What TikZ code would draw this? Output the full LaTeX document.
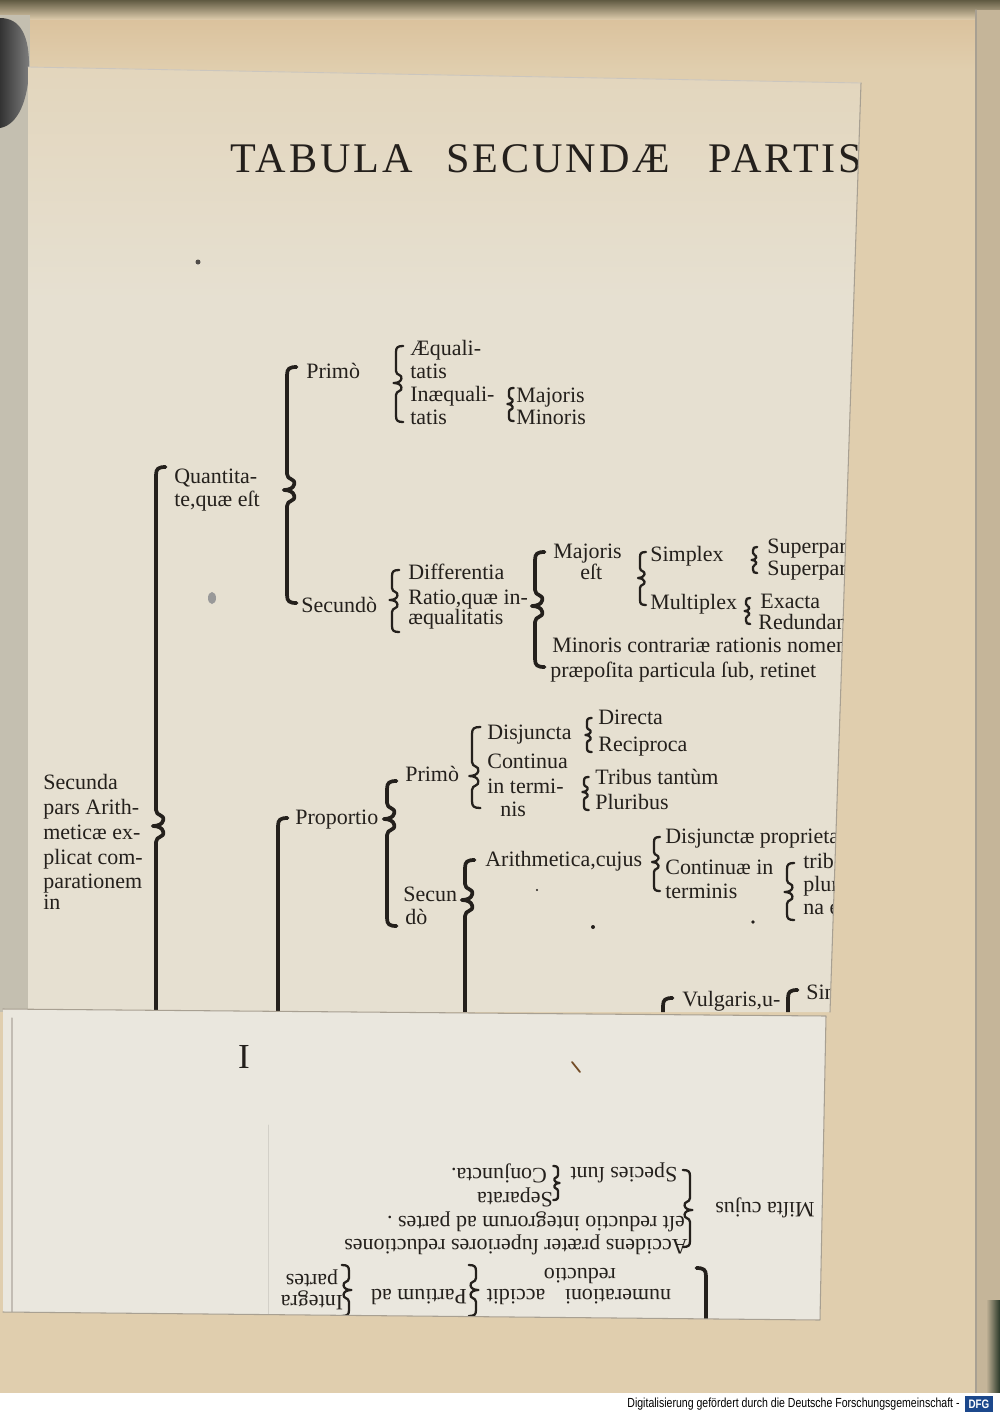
\documentclass[tikz,border=0pt]{standalone}
\usepackage{fontspec}
\setmainfont{Liberation Serif}
\newfontfamily\titfont[LetterSpace=7]{Liberation Serif}
\newfontfamily\dfgfont[FakeStretch=0.8]{Liberation Sans}
\definecolor{pagina}{RGB}{224,206,174}
\definecolor{charta}{RGB}{230,224,209}
\definecolor{plica}{RGB}{234,231,222}
\definecolor{atrum}{RGB}{36,32,28}
\definecolor{umbra}{RGB}{168,160,146}
\definecolor{rotulus}{RGB}{196,191,176}
\definecolor{dfgblau}{RGB}{28,72,140}
\begin{document}
\begin{tikzpicture}[x=0.02cm,y=-0.02cm,line cap=round,line join=round,
	font=\fontsize{12.5}{13}\selectfont]
	\tikzset{txt/.style={anchor=base west,inner sep=0pt,text=atrum},
		rtxt/.style={anchor=center,inner sep=0pt,text=atrum,rotate=180},
		bigbrace/.style={draw=atrum,line width=2.1pt},
		smallbrace/.style={draw=atrum,line width=1.3pt}}
	\useasboundingbox (0,0) rectangle (1000,1414);
	% brace: style, x, top, mid, bottom, size
	\def\brk#1#2#3#4#5#6{\draw[#1] (#2+0.6*#6,#3) .. controls (#2+0.15*#6,#3) and (#2,#3+0.1*#6) .. (#2,#3+0.5*#6) -- (#2,#4-#6) .. controls (#2,#4-0.6*#6) and (#2+0.55*#6,#4-0.75*#6) .. (#2+0.45*#6,#4-0.35*#6) .. controls (#2+0.4*#6,#4-0.1*#6) and (#2+0.1*#6,#4) .. (#2-0.2*#6,#4) .. controls (#2+0.1*#6,#4) and (#2+0.4*#6,#4+0.1*#6) .. (#2+0.45*#6,#4+0.35*#6) .. controls (#2+0.55*#6,#4+0.75*#6) and (#2,#4+0.6*#6) .. (#2,#4+#6) -- (#2,#5-0.5*#6) .. controls (#2,#5-0.1*#6) and (#2+0.15*#6,#5) .. (#2+0.6*#6,#5);}
	%--------- pagina
	\fill[pagina] (0,0) rectangle (1000,1414);
	\shade[top color={rgb,255:red,96;green,90;blue,66}, bottom color=pagina] (0,0) rectangle (1000,20);
	\shade[top color=pagina!85!brown, bottom color=pagina] (30,20) rectangle (975,70);
	\fill[pagina!88!black] (976,10) rectangle (1000,1393);
	\draw[umbra,line width=0.6pt] (976,10) -- (976,1393);
	\shade[left color=pagina!88!black, right color={rgb,255:red,40;green,55;blue,40}] (986,1300) rectangle (1000,1393);
	\fill[rotulus] (0,15) rectangle (30,1012);
	\shade[left color=black!80, right color=black!50] (0,18) .. controls (20,18) and (30,35) .. (29,70) .. controls (28,100) and (18,125) .. (0,128) -- cycle;
	%--------- charta
	\fill[charta] (28,67) -- (861,83) -- (830,1012) -- (28,1012) -- cycle;
	\begin{scope}
		\clip (28,67) -- (861,83) -- (830,1012) -- (28,1012) -- cycle;
		\shade[top color=pagina!60!charta, bottom color=charta] (28,60) rectangle (870,300);
		\node[anchor=base west,inner sep=0pt,text=atrum,font=\titfont\fontsize{24}{24}\selectfont] (titulus) at (230,172) {TABULA\hspace{19pt}SECUNDÆ\hspace{22pt}PARTIS};
		% quantitas
		\node[txt] (primoA) at (306,378) {Primò};
		\node[txt] (aequ1) at (410,355) {Æquali-};
		\node[txt] (aequ2) at (410,378) {tatis};
		\node[txt] (inaequ1) at (410,401) {Inæquali-};
		\node[txt] (inaequ2) at (410,424) {tatis};
		\node[txt] (majorA) at (516,402) {Majoris};
		\node[txt] (minorA) at (516,424) {Minoris};
		\node[txt] (quant1) at (174,483) {Quantita-};
		\node[txt] (quant2) at (174,506) {te,quæ eſt};
		\node[txt] (secundoA) at (301,612) {Secundò};
		\node[txt] (diff) at (408,579) {Differentia};
		\node[txt] (ratio1) at (408,604) {Ratio,quæ in-};
		\node[txt] (ratio2) at (408,624) {æqualitatis};
		\node[txt] (majorB1) at (553,558) {Majoris};
		\node[txt] (majorB2) at (580,579) {eſt};
		\node[txt] (simplex) at (650,561) {Simplex};
		\node[txt] (multiplex) at (650,609) {Multiplex};
		\node[txt] (superp1) at (767,553) {Superpart};
		\node[txt] (superp2) at (767,575) {Superpart};
		\node[txt] (exacta) at (760,608) {Exacta};
		\node[txt] (redund) at (758,629) {Redundan};
		\node[txt] (minorB1) at (552,652) {Minoris contrariæ rationis nomen};
		\node[txt] (minorB2) at (550,677) {præpoſita particula ſub, retinet};
		% proportio
		\foreach \s/\y [count=\i] in {Secunda/789,pars Arith-/814,meticæ ex-/839,plicat com-/864,parationem/888,in/909}
			\node[txt] (secunda\i) at (43,\y) {\s};
		\node[txt] (proport) at (295,824) {Proportio};
		\node[txt] (primoB) at (405,781) {Primò};
		\node[txt] (secunB1) at (403,901) {Secun};
		\node[txt] (secunB2) at (405,924) {dò};
		\node[txt] (disj) at (487,739) {Disjuncta};
		\node[txt] (cont1) at (487,768) {Continua};
		\node[txt] (cont2) at (487,793) {in termi-};
		\node[txt] (cont3) at (500,816) {nis};
		\node[txt] (directa) at (598,724) {Directa};
		\node[txt] (recip) at (598,751) {Reciproca};
		\node[txt] (tribus) at (595,784) {Tribus tantùm};
		\node[txt] (plures) at (595,809) {Pluribus};
		\node[txt] (arith) at (485,866) {Arithmetica,cujus};
		\node[txt] (disjprop) at (665,843) {Disjunctæ proprieta};
		\node[txt] (contin1) at (665,874) {Continuæ in};
		\node[txt] (contin2) at (665,898) {terminis};
		\node[txt] (trib) at (803,868) {trib};
		\node[txt] (plur) at (803,891) {plur};
		\node[txt] (nae) at (803,914) {na e};
		\node[txt] (vulg1) at (682,1006) {Vulgaris,u-};
		\node[txt] (vulg2) at (680,1029) {hi exempl};
		\node[txt] (sin) at (806,999) {Sin};
		%--------- uncini
		\brk{bigbrace}{156}{467}{826}{1200}{16}
		\brk{bigbrace}{287}{367}{490}{603}{16}
		\brk{smallbrace}{396}{346}{383}{422}{12}
		\brk{smallbrace}{509}{388}{404}{421}{8}
		\brk{smallbrace}{392}{570}{600}{632}{12}
		\brk{bigbrace}{535}{552}{606}{667}{16}
		\brk{smallbrace}{640}{552}{578}{605}{10}
		\brk{smallbrace}{753}{547}{560}{573}{7}
		\brk{smallbrace}{746}{598}{611}{624}{7}
		\brk{bigbrace}{278}{818}{1100}{1200}{16}
		\brk{bigbrace}{387}{781}{819}{926}{16}
		\brk{smallbrace}{472}{727}{776}{808}{14}
		\brk{smallbrace}{587}{718}{735}{752}{8}
		\brk{smallbrace}{584}{777}{792}{810}{8}
		\brk{bigbrace}{465}{860}{900}{1200}{16}
		\brk{smallbrace}{654}{837}{862}{891}{10}
		\brk{smallbrace}{787}{863}{892}{920}{12}
		\brk{bigbrace}{663}{998}{1100}{1200}{16}
		\brk{bigbrace}{788}{990}{1028}{1100}{16}
		% maculae
		\fill[atrum!80] (198,262) circle (2.5);
		\fill[black!40] (212,598) ellipse (4 and 6);
		\fill[atrum] (593,927) circle (2);
		\fill[atrum] (537,890) circle (1.2);
		\fill[atrum] (753,922) circle (1.8);
	\end{scope}
	\draw[umbra,line width=0.6pt] (861,83) -- (830,1012);
	\draw[umbra!60,line width=0.5pt] (28,67) -- (861,83);
	%--------- plica
	\fill[plica] (3,1009) -- (826,1016) -- (820,1320) -- (3,1312) -- cycle;
	\begin{scope}
		\clip (3,1009) -- (826,1016) -- (820,1320) -- (3,1312) -- cycle;
		\draw[umbra!50,line width=0.5pt] (268,1125) -- (268,1320);
		\draw[umbra!70,line width=0.6pt] (12,1018) -- (12,1312);
		\node[anchor=center,inner sep=0pt,text=atrum,font=\fontsize{20}{20}\selectfont] (signum) at (244,1057) {I};
		\draw[brown!60!black,line width=1pt] (572,1062) -- (580,1072);
		\node[rtxt] (mista) at (765,1208) {Miſta cujus};
		\node[rtxt] (species) at (624,1173) {Species ſunt};
		\node[rtxt] (conj) at (499,1173) {Conjuncta.};
		\node[rtxt] (separ) at (515,1197) {Separata};
		\node[rtxt] (reduct) at (536,1222) {eſt reductio integrorum ad partes .};
		\node[rtxt] (accid) at (516,1245) {Accidens præter ſuperiores reductiones};
		\node[rtxt] (reduct2) at (580,1276) {reductio};
		\node[rtxt] (numer) at (618,1297) {numerationi};
		\node[rtxt] (accidit) at (516,1297) {accidit};
		\node[rtxt] (partium) at (419,1297) {Partium ad};
		\node[rtxt] (partes) at (312,1278) {partes};
		\node[rtxt] (integra) at (312,1300) {Integra};
		\begin{scope}[xscale=-1]
			\brk{smallbrace}{-690}{1170}{1210}{1247}{12}
			\brk{smallbrace}{-558}{1166}{1183}{1200}{8}
			\brk{smallbrace}{-476}{1265}{1290}{1316}{12}
			\brk{smallbrace}{-349}{1265}{1290}{1316}{12}
			\brk{bigbrace}{-706}{1268}{1400}{1500}{16}
		\end{scope}
	\end{scope}
	\draw[umbra,line width=0.6pt] (3,1009) -- (826,1016) -- (820,1320) -- (3,1312);
	%--------- DFG
	\fill[white] (0,1393) rectangle (1000,1414);
	\node[anchor=east,inner sep=0pt,font=\dfgfont\fontsize{7.5}{8}\selectfont] (digit) at (960,1404) {Digitalisierung gefördert durch die Deutsche Forschungsgemeinschaft -};
	\node[fill=dfgblau,text=white,inner sep=0pt,minimum width=0.56cm,minimum height=0.32cm,font=\dfgfont\bfseries\fontsize{7}{7}\selectfont] (dfg) at (979,1404) {DFG};
\end{tikzpicture}
\end{document}
